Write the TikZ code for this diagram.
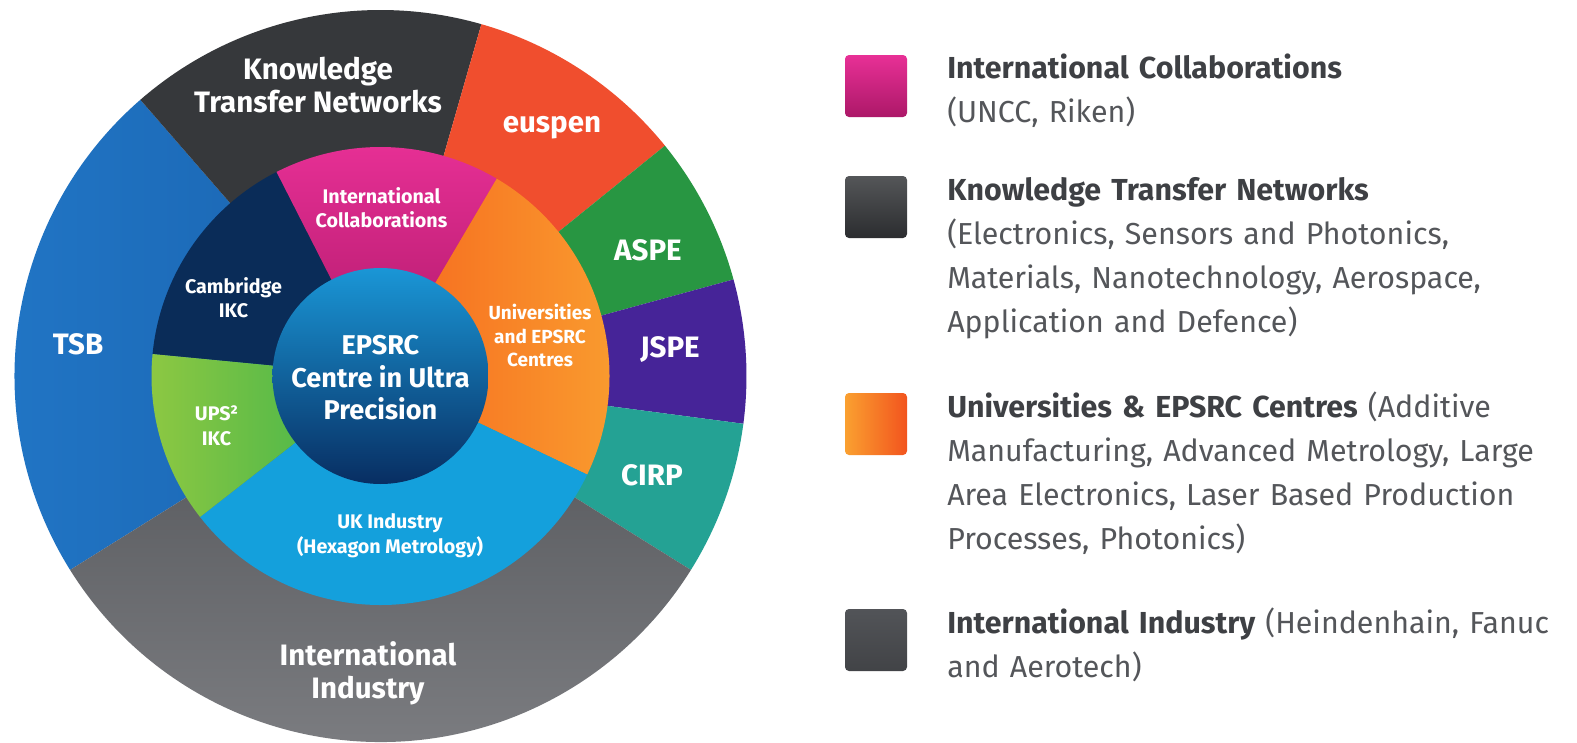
\documentclass[tikz,border=0pt]{standalone}
\usepackage{fontspec}
\setmainfont{Fira Sans}
\definecolor{tsbblue}{RGB}{33,118,198}
\definecolor{tsbdark}{RGB}{26,100,176}
\definecolor{ktngray}{RGB}{54,56,59}
\definecolor{euspenred}{RGB}{240,78,46}
\definecolor{aspegreen}{RGB}{40,150,66}
\definecolor{jspepurple}{RGB}{70,36,152}
\definecolor{cirpteal}{RGB}{36,162,148}
\definecolor{iitop}{RGB}{82,84,88}
\definecolor{iibottom}{RGB}{128,129,133}
\definecolor{cambnavy}{RGB}{10,44,88}
\definecolor{collabpink}{RGB}{232,48,150}
\definecolor{collabdeep}{RGB}{172,24,104}
\definecolor{unileft}{RGB}{246,104,30}
\definecolor{uniright}{RGB}{250,160,48}
\definecolor{unikey}{RGB}{242,84,30}
\definecolor{ukblue}{RGB}{20,160,220}
\definecolor{upsleft}{RGB}{142,200,66}
\definecolor{upsright}{RGB}{56,178,76}
\definecolor{epsrctop}{RGB}{26,150,214}
\definecolor{epsrcbottom}{RGB}{8,46,98}
\definecolor{keydark}{RGB}{62,64,68}
\definecolor{keytext}{RGB}{84,86,90}
\tikzset{
  lbl/.style={text=white,font=\bfseries\fontsize{21}{23.5}\selectfont,align=center,inner sep=0},
  midlbl/.style={text=white,font=\bfseries\fontsize{14}{17.5}\selectfont,align=center,inner sep=0},
  keybox/.style={minimum size=15.5mm,inner sep=0,rounded corners=1mm},
  keytxt/.style={anchor=base west,inner sep=0,text width=165mm,align=left,text=keytext,
    font=\fontsize{21.6}{31.3}\selectfont}
}
% pie slice: style, start angle, end angle, radius
\newcommand\pieslice[4]{\path[#1] (0,0) -- (#2:#4) arc[start angle=#2,end angle=#3,radius=#4] -- cycle;}
\begin{document}
\begin{tikzpicture}[x=0.25mm,y=0.25mm]
\fill[white] (-380.5,-366) rectangle (1196.5,376);
\useasboundingbox (-380.5,-366) rectangle (1196.5,376);
% outer ring
\pieslice{left color=tsbblue,right color=tsbdark}{131}{212}{366}
\pieslice{fill=ktngray}{74}{131}{366}
\pieslice{fill=euspenred}{39}{74}{366}
\pieslice{fill=aspegreen}{15.3}{39}{366}
\pieslice{fill=jspepurple}{-7.5}{15.3}{366}
\pieslice{fill=cirpteal}{-32}{-7.5}{366}
\pieslice{top color=iitop,bottom color=iibottom}{212}{328}{366}
% middle ring
\pieslice{fill=cambnavy}{117}{174.5}{229}
\pieslice{top color=collabpink,bottom color=collabdeep}{59.5}{117}{229}
\pieslice{left color=unileft,right color=uniright}{-25.5}{59.5}{229}
\pieslice{fill=ukblue}{218}{334.5}{229}
\pieslice{left color=upsleft,right color=upsright}{174.5}{218}{229}
% centre
\shade[top color=epsrctop,bottom color=epsrcbottom] (0,0) circle[radius=108];
\node[lbl] (ktn) at (-62.5,291) {Knowledge\\Transfer Networks};
\node[lbl] (euspen) at (171.5,248) {euspen};
\node[lbl] (aspe) at (267.5,126) {ASPE};
\node[lbl] (jspe) at (289.5,26) {JSPE};
\node[lbl] (cirp) at (271.5,-99) {CIRP};
\node[lbl] (tsb) at (-302.5,32) {TSB};
\node[lbl] (intind) at (-12.5,-297) {International\\Industry};
\node[midlbl] (collab) at (1,168.5) {International\\Collaborations};
\node[midlbl] (camb) at (-147,78.5) {Cambridge\\IKC};
\node[midlbl,font=\bfseries\fontsize{13.5}{17}\selectfont] (unis) at (159.5,40.5) {Universities\\and EPSRC\\Centres};
\node[midlbl] (ups) at (-164,-49.5) {UPS²\\IKC};
\node[midlbl] (ukind) at (9.5,-160) {UK Industry\\(Hexagon Metrology)};
\node[lbl,font=\bfseries\fontsize{19.3}{23.1}\selectfont] (epsrc) at (0,-2) {EPSRC\\Centre in Ultra\\Precision};
% key
\node[keybox,top color=collabpink,bottom color=collabdeep] (keyic) at (495.5,290) {};
\node[keybox,top color=ktngray!85!white,bottom color=ktngray!80!black] (keyktn) at (495.5,169) {};
\node[keybox,left color=uniright,right color=unikey] (keyuni) at (495.5,-48) {};
\node[keybox,top color=iitop,bottom color=iitop!80!black] (keyii) at (495.5,-264) {};
\node[keytxt] (keyictxt) at (566.5,298) {{\bfseries\color{keydark}International Collaborations}\\(UNCC, Riken)};
\node[keytxt] (keyktntxt) at (566.5,176) {{\bfseries\color{keydark}Knowledge Transfer Networks}\\(Electronics, Sensors and Photonics,\\Materials, Nanotechnology, Aerospace,\\Application and Defence)};
\node[keytxt] (keyunitxt) at (566.5,-41) {{\bfseries\color{keydark}Universities \& EPSRC Centres} (Additive\\Manufacturing, Advanced Metrology, Large\\Area Electronics, Laser Based Production\\Processes, Photonics)};
\node[keytxt] (keyiitxt) at (566.5,-257) {{\bfseries\color{keydark}International Industry} (Heindenhain, Fanuc\\and Aerotech)};
\end{tikzpicture}
\end{document}
